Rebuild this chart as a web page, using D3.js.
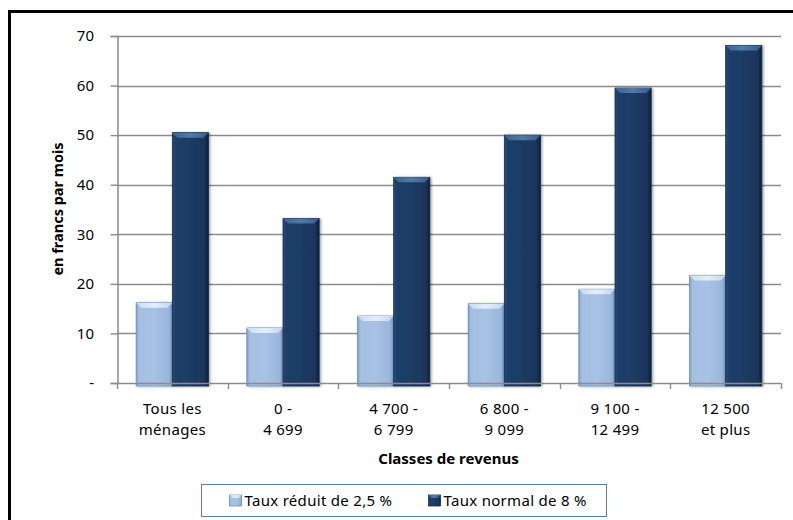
<!DOCTYPE html>
<html><head><meta charset="utf-8">
<script src="https://cdn.jsdelivr.net/npm/d3@7"></script>
<style>
html,body{margin:0;padding:0;background:#fff;}
svg{display:block;font-family:"Noto Sans",sans-serif;}
</style></head>
<body>
<svg id="chart" width="793" height="520"></svg>
<script>
const categories = ["Tous les|ménages", "0 -|4 699", "4 700 -|6 799", "6 800 -|9 099", "9 100 -|12 499", "12 500|et plus"];
const tauxReduit = [16.2, 11.1, 13.5, 16.0, 18.9, 21.7];
const tauxNormal = [50.5, 33.2, 41.5, 50.0, 59.5, 68.1];
const seriesNames = ["Taux réduit de 2,5 %", "Taux normal de 8 %"];
const yTicks = [0, 10, 20, 30, 40, 50, 60, 70];
const yTickLabels = ["-", "10", "20", "30", "40", "50", "60", "70"];
const yTitle = "en francs par mois";
const xTitle = "Classes de revenus";

const FONT = "Noto Sans";
const FS = 15;
const LS = 0.3;

const svg = d3.select("#chart");
const defs = svg.append("defs");

// frame lines (top and left)
svg.append("line").attr("x1", 8).attr("x2", 793).attr("y1", 11.5).attr("y2", 11.5).attr("stroke", "#000").attr("stroke-width", 3);
svg.append("line").attr("x1", 9.5).attr("x2", 9.5).attr("y1", 10).attr("y2", 520).attr("stroke", "#000").attr("stroke-width", 3);

const plot = {left: 117, right: 781, top: 36, bottom: 383};
const y = d3.scaleLinear().domain([0, 70]).range([plot.bottom, plot.top]);
const xCat = d3.scaleBand().domain(categories).range([plot.left, plot.right]);
const x0 = d3.scaleBand().domain(categories).range([plot.left, plot.right]).paddingInner(0.346).paddingOuter(0.173);
const x1 = d3.scaleBand().domain([0, 1]).range([0, x0.bandwidth()]);

// gradients
function grad(id, stops) {
  const g = defs.append("linearGradient").attr("id", id).attr("x1", "0").attr("x2", "1").attr("y1", "0").attr("y2", "0");
  stops.forEach(s => g.append("stop").attr("offset", s[0]).attr("stop-color", s[1]));
}
grad("gLight", [[0, "#7e9fcb"], [0.08, "#a3bfe2"], [0.5, "#a7c2e4"], [0.9, "#9ab6db"], [1, "#7392bd"]]);
grad("gDark", [[0, "#2a4b78"], [0.08, "#1f3f6a"], [0.5, "#1d3b64"], [0.88, "#1a355b"], [1, "#0e2038"]]);
grad("gLightTop", [[0, "#c9dcf2"], [0.5, "#e3eefa"], [1, "#c3d6ee"]]);
grad("gDarkTop", [[0, "#3f6391"], [0.5, "#5279aa"], [1, "#3a5c88"]]);
const sh = defs.append("filter").attr("id", "shadow").attr("x", "-20%").attr("y", "-5%").attr("width", "140%").attr("height", "110%");
sh.append("feDropShadow").attr("dx", 1.5).attr("dy", 0.5).attr("stdDeviation", 0.8).attr("flood-color", "#000").attr("flood-opacity", 0.35);

// gridlines
svg.append("g").selectAll("line").data(yTicks.slice(1)).join("line")
  .attr("x1", plot.left).attr("x2", plot.right)
  .attr("y1", d => Math.round(y(d)) + 0.5).attr("y2", d => Math.round(y(d)) + 0.5)
  .attr("stroke", "#8c8c8c").attr("stroke-width", 1.4);

// y axis
const yAxis = d3.axisLeft(y).tickValues(yTicks).tickSize(7).tickPadding(16)
  .tickFormat((d, i) => yTickLabels[i]);
const gy = svg.append("g").attr("transform", `translate(${plot.left + 0.5},0)`).call(yAxis);
gy.select(".domain").attr("stroke", "#8c8c8c").attr("stroke-width", 1.5);
gy.selectAll(".tick line").attr("stroke", "#8c8c8c").attr("stroke-width", 1.4);
gy.selectAll(".tick text").attr("font-size", FS).attr("fill", "#000").attr("font-family", FONT).attr("letter-spacing", LS);

// bars
const seriesData = [tauxReduit, tauxNormal];
const groups = svg.append("g").selectAll("g").data(categories).join("g")
  .attr("transform", d => `translate(${x0(d)},0)`);
groups.each(function(cat, ci) {
  const g = d3.select(this);
  [0, 1].forEach(si => {
    const v = seriesData[si][ci];
    const bx = x1(si), bw = x1.bandwidth();
    const top = y(v), bot = y(0) + 3;
    g.append("rect").attr("x", bx).attr("y", top).attr("width", bw).attr("height", bot - top)
      .attr("fill", si === 0 ? "url(#gLight)" : "url(#gDark)")
      .attr("stroke", si === 0 ? "#6f8fbc" : "#142c4c").attr("stroke-width", 0.8)
      .attr("filter", "url(#shadow)");
    const b = 5;
    g.append("path")
      .attr("d", `M${bx},${top} L${bx + bw},${top} L${bx + bw - b},${top + b} L${bx + b},${top + b} Z`)
      .attr("fill", si === 0 ? "url(#gLightTop)" : "url(#gDarkTop)");
  });
});

// x axis line and boundary ticks
svg.append("line").attr("x1", plot.left).attr("x2", plot.right).attr("y1", plot.bottom + 0.5).attr("y2", plot.bottom + 0.5)
  .attr("stroke", "#8c8c8c").attr("stroke-width", 1.5);
const bounds = categories.map(c => xCat(c)).concat([plot.right]);
svg.append("g").selectAll("line").data(bounds).join("line")
  .attr("x1", d => Math.round(d) + 0.5).attr("x2", d => Math.round(d) + 0.5)
  .attr("y1", plot.bottom).attr("y2", plot.bottom + 6)
  .attr("stroke", "#8c8c8c").attr("stroke-width", 1.4);

// x labels
const xAxis = d3.axisBottom(xCat).tickSize(0).tickFormat("");
const gx = svg.append("g").attr("transform", `translate(0,${plot.bottom})`).call(xAxis);
gx.select(".domain").remove();
gx.selectAll(".tick").each(function(d) {
  const t = d3.select(this).append("text").attr("fill", "#000").attr("font-size", FS).attr("font-family", FONT)
    .attr("letter-spacing", LS).attr("text-anchor", "middle");
  d.split("|").forEach((line, i) => {
    t.append("tspan").attr("x", 0).attr("y", 30.5 + i * 21.5).text(line);
  });
});

// axis titles
svg.append("text").attr("x", (plot.left + plot.right) / 2 - 0.5).attr("y", 463.5).attr("text-anchor", "middle")
  .attr("font-weight", "bold").attr("font-size", FS).attr("font-family", FONT).text(xTitle);
svg.append("text").attr("transform", `translate(63,209) rotate(-90)`).attr("text-anchor", "middle")
  .attr("font-weight", "bold").attr("font-size", 14.5).attr("font-family", FONT).text(yTitle);

// legend
const lg = svg.append("g");
lg.append("rect").attr("x", 201.5).attr("y", 484.5).attr("width", 405).attr("height", 32)
  .attr("fill", "#fff").attr("stroke", "#5d7ba4").attr("stroke-width", 1);
const legendX = [229.5, 428.5];
seriesNames.forEach((name, i) => {
  const it = lg.append("g").attr("transform", `translate(${legendX[i]},495)`);
  it.append("rect").attr("width", 12).attr("height", 11)
    .attr("fill", i === 0 ? "url(#gLight)" : "url(#gDark)").attr("stroke", i === 0 ? "#6f8fbc" : "#142c4c").attr("stroke-width", 0.8);
  it.append("path").attr("d", "M0,0 L12,0 L9,3 L3,3 Z").attr("fill", i === 0 ? "url(#gLightTop)" : "url(#gDarkTop)");
  it.append("text").attr("x", 15).attr("y", 11).attr("font-size", FS).attr("font-family", FONT)
    .attr("letter-spacing", LS).attr("fill", "#000").text(name);
});
</script>
</body></html>
